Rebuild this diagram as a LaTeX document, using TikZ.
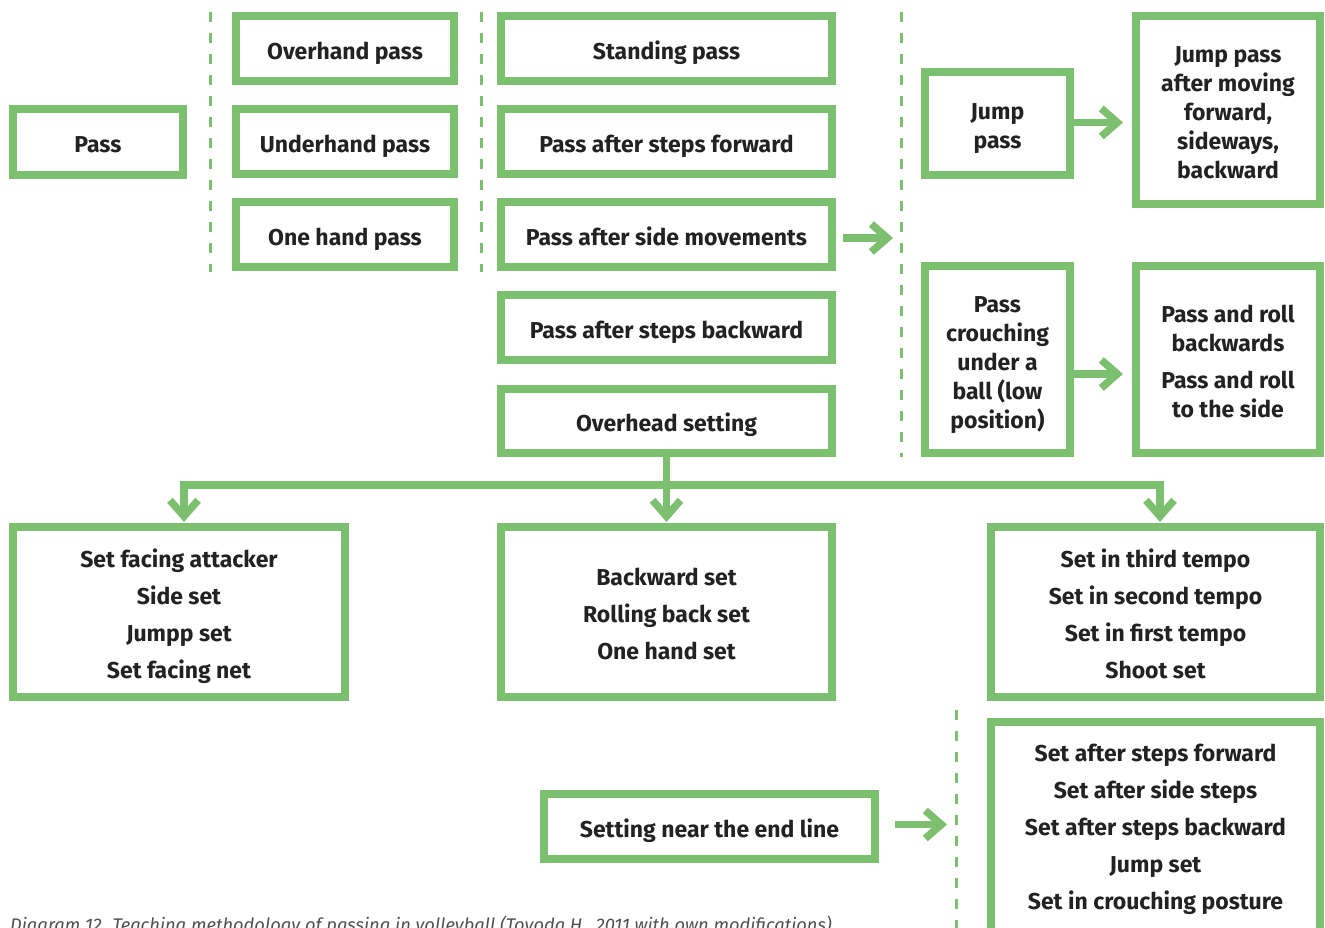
\documentclass[tikz,border=0pt]{standalone}
\usepackage{fontspec}
\setmainfont{Fira Sans}
\usetikzlibrary{arrows.meta}
\definecolor{leaf}{RGB}{124,191,110}
\definecolor{ink}{RGB}{34,34,34}
\definecolor{capgray}{RGB}{80,80,80}
% centred stack of lines with even strut spacing, lowered slightly in its box
\newcommand\lbl[2][-11pt]{\raisebox{#1}[0pt][0pt]{\begin{tabular}{@{}c@{}}#2\end{tabular}}}
\begin{document}
\begin{tikzpicture}[x=1pt,y=-1pt,
  box/.style={draw=leaf, line width=8pt, outer sep=0pt, inner sep=0pt,
    text=ink, font=\bfseries\fontsize{23}{29}\selectfont},
  arr/.style={draw=leaf, line width=7.5pt,
    -{Straight Barb[length=16pt,width=28pt,line width=7.5pt]}},
  sep/.style={draw=leaf, line width=3pt, dash pattern=on 10pt off 11pt},
]
\useasboundingbox (0,0) rectangle (1325,928);

% dashed separators
\draw[sep] (210,12) -- (210,272);
\draw[sep] (481,12) -- (481,272);
\draw[sep] (901,12) -- (901,457);
\draw[sep] (956,710) -- (956,940);

% first column
\node[box, minimum width=170pt, minimum height=66pt] (pass) at (98,142) {\lbl{Pass}};

% pass types
\node[box, minimum width=218pt, minimum height=65pt] (overhand) at (345,48.5) {\lbl{Overhand pass}};
\node[box, minimum width=218pt, minimum height=65pt] (underhand) at (345,141.5) {\lbl{Underhand pass}};
\node[box, minimum width=218pt, minimum height=65pt] (onehand) at (345,234.5) {\lbl{One hand pass}};

% pass with movement
\node[box, minimum width=331pt, minimum height=65pt] (standing) at (666.5,48.5) {\lbl{Standing pass}};
\node[box, minimum width=331pt, minimum height=65pt] (forward) at (666.5,141.5) {\lbl{Pass after steps forward}};
\node[box, minimum width=331pt, minimum height=65pt] (side) at (666.5,234.5) {\lbl{Pass after side movements}};
\node[box, minimum width=331pt, minimum height=65pt] (backward) at (666.5,327.5) {\lbl{Pass after steps backward}};
\node[box, minimum width=331pt, minimum height=64pt] (overhead) at (666.5,421) {\lbl{Overhead setting}};

% jump and crouching passes
\node[box, minimum width=145pt, minimum height=103pt] (jump) at (997.5,123.5) {\lbl{Jump\\pass}};
\node[box, minimum width=184pt, minimum height=188pt] (jumpmove) at (1228,110)
  {\lbl{Jump pass\\after moving\\forward,\\sideways,\\backward}};
\node[box, minimum width=145pt, minimum height=187pt] (crouch) at (997.5,359.5)
  {\lbl{Pass\\crouching\\under a\\ball (low\\position)}};
\node[box, minimum width=184pt, minimum height=187pt] (roll) at (1228,359.5)
  {\lbl{Pass and roll\\backwards\\[8pt]Pass and roll\\to the side}};

% setting variants
\node[box, minimum width=332pt, minimum height=170pt] (facing) at (179,612)
  {\lbl{Set facing attacker\\[8pt]Side set\\[8pt]Jumpp set\\[8pt]Set facing net}};
\node[box, minimum width=331pt, minimum height=170pt] (backset) at (666.5,612)
  {\lbl{Backward set\\[8pt]Rolling back set\\[8pt]One hand set}};
\node[box, minimum width=329pt, minimum height=170pt] (tempo) at (1155.5,612)
  {\lbl{Set in third tempo\\[8pt]Set in second tempo\\[8pt]Set in first tempo\\[8pt]Shoot set}};

% setting near the end line (box runs on below the page edge)
\node[box, minimum width=331pt, minimum height=65pt] (endline) at (709.5,826.5) {\lbl{Setting near the end line}};
\node[box, minimum width=329pt, minimum height=225pt] (nearend) at (1155.5,834.5)
  {\lbl[-1pt]{Set after steps forward\\[8pt]Set after side steps\\[8pt]Set after steps backward\\[8pt]Jump set\\[8pt]Set in crouching posture}};

% connectors
\coordinate (sepA) at (901,238);
\coordinate (sepB) at (956,824.5);
\coordinate (hub) at (666.5,485);

\draw[arr, shorten <=11pt, shorten >=8pt] (side.east |- sepA) -- (sepA);
\draw[arr, shorten >=13pt] (jump.east |- 0,122.5) -- (jumpmove.west |- 0,122.5);
\draw[arr, shorten >=13pt] (crouch.east |- 0,374) -- (roll.west |- 0,374);
\draw[arr, shorten <=20pt, shorten >=9pt] (endline.east |- sepB) -- (sepB);

\draw[arr, shorten >=5pt] (overhead.south) -- (backset.north);
\draw[arr, shorten >=5pt] (hub) -| ([xshift=5pt]facing.north);
\draw[arr, shorten >=5pt] (hub) -| ([xshift=4.5pt]tempo.north);

% caption
\node[anchor=base west, inner sep=0pt, text=capgray, font=\itshape\fontsize{18.3}{20}\selectfont] (caption) at (10,931)
  {Diagram 12. Teaching methodology of passing in volleyball (Toyoda H., 2011 with own modifications)};
\end{tikzpicture}
\end{document}
